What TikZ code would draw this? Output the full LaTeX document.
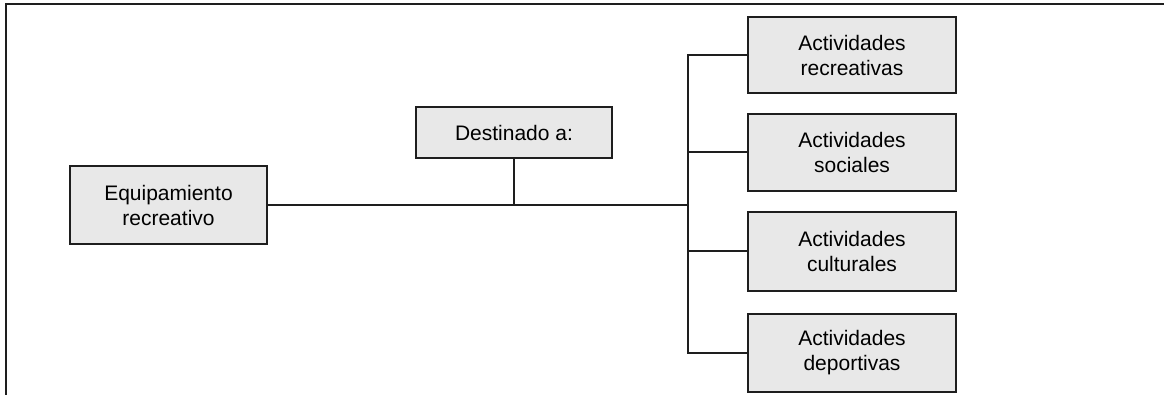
\documentclass[tikz,border=0pt]{standalone}
\usepackage{fontspec}
\setmainfont{Liberation Sans}
\definecolor{boxfill}{HTML}{E8E8E8}
\definecolor{ink}{HTML}{1E1E1E}
\begin{document}
\begin{tikzpicture}[x=1pt,y=-1pt,
  box/.style={draw=ink, line width=2.2pt, fill=boxfill, rectangle, align=center,
    inner sep=0pt, font=\fontsize{21}{25}\selectfont},
  conn/.style={draw=ink, line width=2pt}]
\useasboundingbox (0,0) rectangle (1164,395);
\draw[ink, line width=1.6pt] (1164,4) -- (6,4) -- (6,395);
\node[box, minimum width=197pt, minimum height=78pt] (equip) at (168.5,205) {Equipamiento\\recreativo};
\node[box, minimum width=196pt, minimum height=51pt] (dest) at (514,132.5) {Destinado a:};
\node[box, minimum width=208pt, minimum height=76pt] (a1) at (852,55) {Actividades\\recreativas};
\node[box, minimum width=208pt, minimum height=77pt] (a2) at (852,152.5) {Actividades\\sociales};
\node[box, minimum width=208pt, minimum height=79pt] (a3) at (852,251.5) {Actividades\\culturales};
\node[box, minimum width=208pt, minimum height=78pt] (a4) at (852,353) {Actividades\\deportivas};
\coordinate (j) at (688,205);
\draw[conn] (equip.east) -- (j);
\draw[conn] (dest.south) -- (dest.south |- j);
\draw[conn] (a1.west) -- (a1.west -| j) -- (a4.west -| j) -- (a4.west);
\draw[conn] (a2.west) -- (a2.west -| j);
\draw[conn] (a3.west) -- (a3.west -| j);
\end{tikzpicture}
\end{document}
